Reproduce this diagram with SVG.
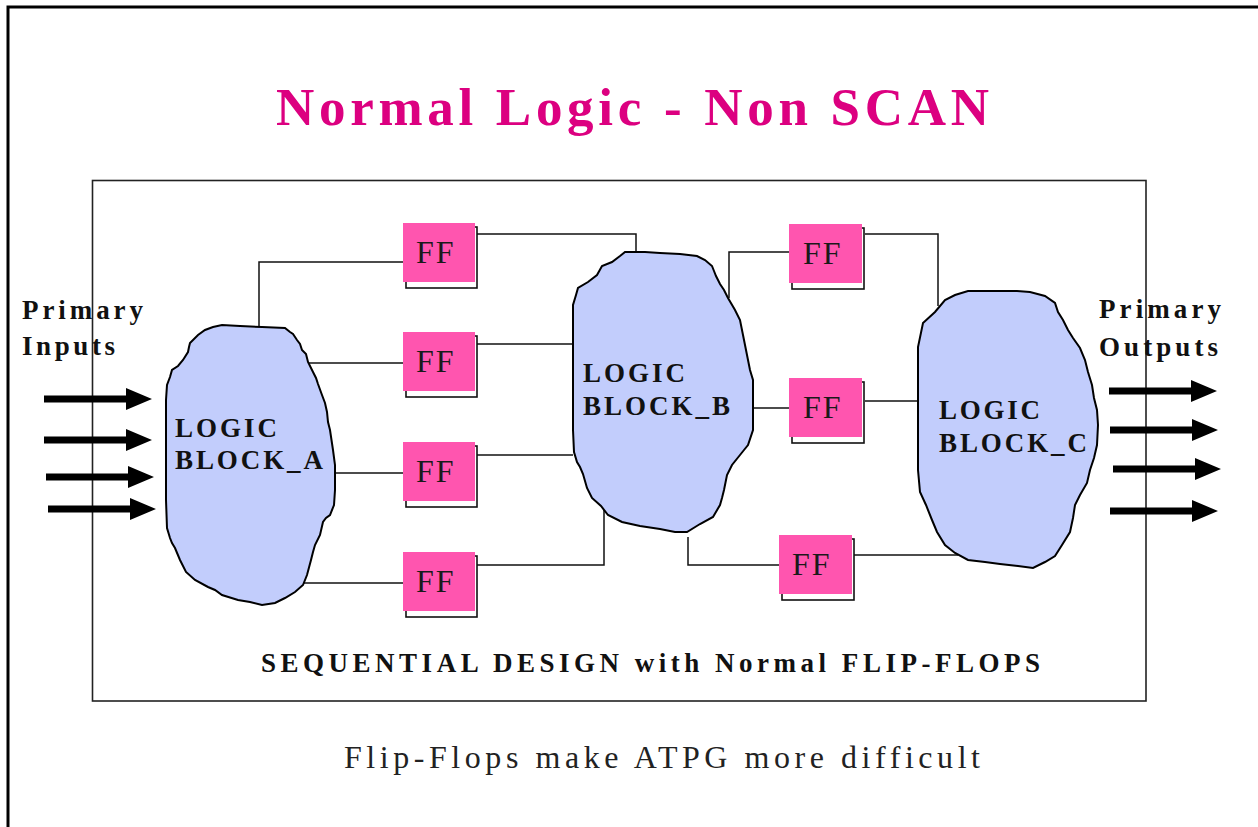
<svg xmlns="http://www.w3.org/2000/svg" width="1258" height="827" viewBox="0 0 1258 827">
<style>
.frame{fill:none;stroke:#000;stroke-width:3}
.inner{fill:none;stroke:#222;stroke-width:1.6}
.wire{fill:none;stroke:#111;stroke-width:1.5}
.blob{fill:#C2CDFC;stroke:#000;stroke-width:2;stroke-linejoin:miter}
.ffbox{fill:#FF55AF}
.ffsh{fill:none;stroke:#111;stroke-width:1.6}
.fft{font-family:"Liberation Serif",serif;font-size:32px;letter-spacing:2px;fill:#1a1a1a}
.lbl{font-family:"Liberation Serif",serif;font-weight:bold;font-size:27px;fill:#111}
.title{font-family:"Liberation Serif",serif;font-weight:bold;font-size:53px;fill:#DC0080}
.sub{font-family:"Liberation Serif",serif;font-size:32px;fill:#222}
</style>
<defs>
<path id="arrow" d="M0,-3.5 H82 V-11 L108,0 L82,11 V3.5 H0 Z" fill="#000"/>
</defs>
<rect width="1258" height="827" fill="#fff"/>
<path class="frame" d="M8,827 V7 H1258"/>
<rect class="inner" x="92.5" y="180.5" width="1053.5" height="520.5"/>
<text class="title" x="276" y="125" textLength="713" lengthAdjust="spacing">Normal Logic - Non SCAN</text>

<g id="connectors">
<path class="wire" d="M259,327 V262 H403"/>
<path class="wire" d="M300,363 H403"/>
<path class="wire" d="M335,473 H403"/>
<path class="wire" d="M302,583 H403"/>
<path class="wire" d="M477,234 H636 V253"/>
<path class="wire" d="M477,344 H573"/>
<path class="wire" d="M477,455 H573"/>
<path class="wire" d="M477,565 H604 V508"/>
<path class="wire" d="M729,298 V252 H789"/>
<path class="wire" d="M865,234 H938 V306"/>
<path class="wire" d="M753,408 H789"/>
<path class="wire" d="M865,401 H918"/>
<path class="wire" d="M688,537 V565 H779"/>
<path class="wire" d="M854,555 H958"/>
</g>

<g id="inputs">
<text class="lbl" x="22" y="319" textLength="121" lengthAdjust="spacing">Primary</text>
<text class="lbl" x="22" y="355" textLength="93" lengthAdjust="spacing">Inputs</text>
<use href="#arrow" x="44" y="399"/>
<use href="#arrow" x="44" y="440"/>
<use href="#arrow" x="46" y="477"/>
<use href="#arrow" x="48" y="509"/>
</g>

<g id="outputs">
<text class="lbl" x="1099" y="318" textLength="122" lengthAdjust="spacing">Primary</text>
<text class="lbl" x="1099" y="356" textLength="119" lengthAdjust="spacing">Outputs</text>
<use href="#arrow" x="1109" y="391"/>
<use href="#arrow" x="1110" y="430"/>
<use href="#arrow" x="1113" y="469"/>
<use href="#arrow" x="1110" y="511"/>
</g>

<g id="block_a">
<path class="blob" d="M213,327 L222,325 L240,326 L262,327 L285,328 L290,332 L293,334 L297,340 L300,344 L302,350 L306,354 L308,362 L313,372 L316,378 L318,384 L322,395 L325,403 L327,412 L328,422 L330,430 L333,450 L335,465 L335,490 L334,505 L330,515 L326,518 L323,522 L320,535 L315,545 L313,552 L311,560 L307,575 L303,585 L295,592 L285,598 L275,603 L262,605 L250,602 L238,600 L222,595 L215,590 L208,587 L195,580 L186,572 L180,560 L175,548 L172,543 L170,538 L167,528 L166,500 L166,450 L166,400 L167,385 L170,377 L172,370 L178,366 L183,360 L188,352 L189,347 L190,343 L198,335 L205,330 Z"/>
<text class="lbl" x="175" y="437" textLength="102" lengthAdjust="spacing">LOGIC</text>
<text class="lbl" x="175" y="469" textLength="148" lengthAdjust="spacing">BLOCK_A</text>
</g>

<g id="block_b">
<path class="blob" d="M625,252 L645,252 L660,253 L680,254 L697,256 L705,260 L712,266 L714,271 L716,276 L720,284 L724,290 L728,298 L735,310 L740,320 L743,335 L745,345 L747,355 L750,370 L753,380 L753,400 L753,430 L748,445 L744,450 L740,455 L732,465 L727,475 L724,490 L722,498 L720,505 L713,517 L700,524 L687,532 L675,532 L660,529 L640,526 L622,522 L608,515 L601,506 L592,498 L587,488 L583,474 L580,467 L577,462 L574,452 L573,430 L573,390 L573,345 L573,305 L576,295 L578,288 L588,282 L597,275 L602,266 L612,262 L620,256 Z"/>
<text class="lbl" x="583" y="382" textLength="102" lengthAdjust="spacing">LOGIC</text>
<text class="lbl" x="583" y="415" textLength="147" lengthAdjust="spacing">BLOCK_B</text>
</g>

<g id="block_c">
<path class="blob" d="M968,291 L990,291 L1017,291 L1030,292 L1045,296 L1055,303 L1058,312 L1063,320 L1068,330 L1073,338 L1080,348 L1085,360 L1088,372 L1092,385 L1094,398 L1097,410 L1098,425 L1097,445 L1094,458 L1090,470 L1087,483 L1080,495 L1075,505 L1073,518 L1070,532 L1062,545 L1055,556 L1045,562 L1033,568 L1018,566 L1000,564 L985,562 L968,560 L955,553 L945,545 L937,532 L932,520 L926,505 L920,492 L918,470 L918,420 L918,370 L918,347 L923,323 L935,312 L945,300 L955,295 Z"/>
<text class="lbl" x="939" y="419" textLength="101" lengthAdjust="spacing">LOGIC</text>
<text class="lbl" x="939" y="452" textLength="148" lengthAdjust="spacing">BLOCK_C</text>
</g>

<g id="ff1"><rect class="ffsh" x="406" y="227" width="71" height="61"/><rect class="ffbox" x="403" y="223" width="72" height="59"/><text class="fft" x="416" y="263">FF</text></g>
<g id="ff2"><rect class="ffsh" x="406" y="336" width="71" height="61"/><rect class="ffbox" x="403" y="332" width="72" height="59"/><text class="fft" x="416" y="372">FF</text></g>
<g id="ff3"><rect class="ffsh" x="406" y="446" width="71" height="61"/><rect class="ffbox" x="403" y="442" width="72" height="59"/><text class="fft" x="416" y="482">FF</text></g>
<g id="ff4"><rect class="ffsh" x="406" y="556" width="71" height="61"/><rect class="ffbox" x="403" y="552" width="72" height="59"/><text class="fft" x="416" y="592">FF</text></g>
<g id="ff5"><rect class="ffsh" x="792" y="228" width="72" height="61"/><rect class="ffbox" x="789" y="224" width="73" height="59"/><text class="fft" x="803" y="264">FF</text></g>
<g id="ff6"><rect class="ffsh" x="792" y="382" width="72" height="61"/><rect class="ffbox" x="789" y="378" width="73" height="59"/><text class="fft" x="803" y="418">FF</text></g>
<g id="ff7"><rect class="ffsh" x="782" y="539" width="72" height="61"/><rect class="ffbox" x="779" y="535" width="73" height="59"/><text class="fft" x="792" y="575">FF</text></g>

<text class="lbl" x="261" y="672" font-size="26" textLength="779" lengthAdjust="spacing">SEQUENTIAL DESIGN with Normal FLIP-FLOPS</text>
<text class="sub" x="344" y="768" textLength="636" lengthAdjust="spacing">Flip-Flops make ATPG more difficult</text>
</svg>
